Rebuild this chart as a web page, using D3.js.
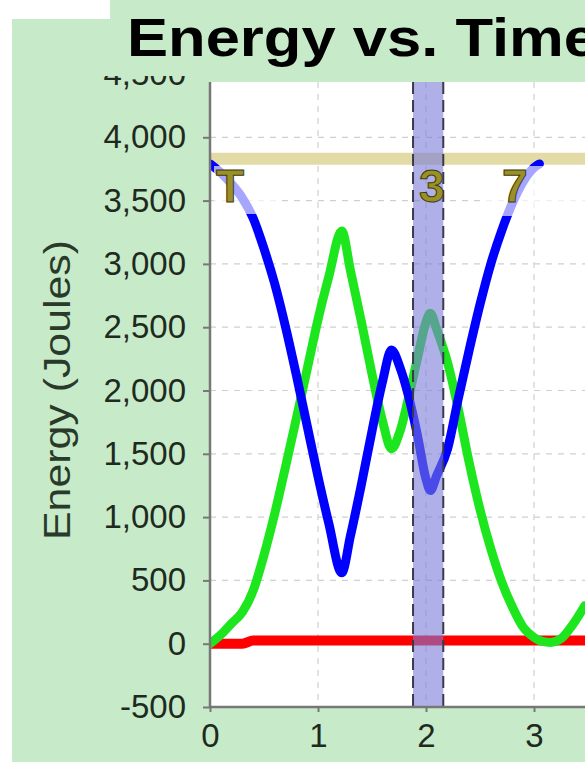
<!DOCTYPE html>
<html>
<head>
<meta charset="utf-8">
<script src="https://cdn.jsdelivr.net/npm/d3@7"></script>
<style>
  body { margin: 0; background: #fff; }
  svg { display: block; font-family: "Liberation Sans", Arial, sans-serif; }
</style>
</head>
<body>
<div class="graph"></div>
<script>
// data
const times   = [0, 0.1, 0.2, 0.3, 0.4, 0.5, 0.6, 0.7, 0.8, 0.9, 1.0, 1.1, 1.22, 1.3, 1.4, 1.5, 1.6, 1.68, 1.76, 1.84, 1.92, 2.0, 2.04, 2.1, 2.2, 2.3, 2.4, 2.5, 2.6, 2.7, 2.8, 2.9, 3.0, 3.05, 3.15, 3.25, 3.35, 3.47];
const kinetic = [0, 70, 160, 250, 420, 700, 1030, 1400, 1780, 2170, 2560, 2900, 3260, 2950, 2550, 2130, 1750, 1540, 1680, 1950, 2250, 2540, 2610, 2480, 2220, 1850, 1430, 1060, 750, 490, 290, 130, 50, 25, 10, 40, 140, 300];
const potential = [3790, 3720, 3630, 3520, 3360, 3120, 2840, 2500, 2120, 1720, 1320, 950, 560, 850, 1250, 1680, 2080, 2320, 2180, 1950, 1650, 1300, 1210, 1330, 1540, 1940, 2320, 2680, 3000, 3260, 3480, 3650, 3760, 3790, null, null, null, null];
const thermal = [0, 0, 0, 0, 25, 25, 25, 25, 25, 25, 25, 25, 25, 25, 25, 25, 25, 25, 25, 25, 25, 25, 25, 25, 25, 25, 25, 25, 25, 25, 25, 25, 25, 25, 25, 25, 25, 25];
const totalEnergy = 3830;
const bandRange = [1.88, 2.16];

const yTicks = [-500, 0, 500, 1000, 1500, 2000, 2500, 3000, 3500, 4000, 4500];
const yTickLabels = ["-500", "0", "500", "1,000", "1,500", "2,000", "2,500", "3,000", "3,500", "4,000", "4,500"];
const xTicks = [0, 1, 2, 3];
const xTickLabels = ["0", "1", "2", "3"];

const width = 585, height = 762;
const pLeft = 210, pRight = 588, pTop = 82, pBottom = 707;
const bgGreen = "#c7ebc8";

const svg = d3.select(".graph").append("svg")
    .attr("width", width)
    .attr("height", height);

//Background
svg.append("rect").attr("width", width).attr("height", height).attr("fill", "#fff");
svg.append("rect").attr("x", 12).attr("y", 0).attr("width", width - 12).attr("height", height).attr("fill", bgGreen);

//Scales
const x = d3.scaleLinear().domain([0, 3.5]).range([pLeft, pRight]);
const y = d3.scaleLinear().domain([-500, 4500]).range([pBottom, pBottom - 10 * 63.3]);

svg.append("clipPath").attr("id", "plotclip")
  .append("rect")
    .attr("x", pLeft).attr("y", pTop)
    .attr("width", width - pLeft).attr("height", pBottom - pTop);

//Plot area
svg.append("rect")
    .attr("x", pLeft).attr("y", pTop)
    .attr("width", width - pLeft).attr("height", pBottom - pTop)
    .attr("fill", "#fff");

const plot = svg.append("g").attr("clip-path", "url(#plotclip)");

//Grid
plot.selectAll(".hgrid").data(yTicks.filter(d => d > -500)).enter().append("line")
    .attr("x1", pLeft).attr("x2", width)
    .attr("y1", d => y(d)).attr("y2", d => y(d))
    .attr("stroke", "#d0d0d0").attr("stroke-width", 1.2).attr("stroke-dasharray", "6,6");
plot.selectAll(".vgrid").data(xTicks.filter(d => d > 0)).enter().append("line")
    .attr("x1", d => x(d)).attr("x2", d => x(d))
    .attr("y1", pTop).attr("y2", pBottom)
    .attr("stroke", "#d0d0d0").attr("stroke-width", 1.2).attr("stroke-dasharray", "6,6");

//Total energy line
plot.append("line")
    .attr("x1", pLeft - 4).attr("x2", width)
    .attr("y1", y(totalEnergy)).attr("y2", y(totalEnergy))
    .attr("stroke", "#e2dba6").attr("stroke-width", 12);

//Series
function series(values, color, w){
  const line = d3.line()
      .defined(d => d[1] !== null)
      .x(d => x(d[0]))
      .y(d => y(d[1]))
      .curve(d3.curveMonotoneX);
  plot.append("path")
      .datum(times.map((t, i) => [t, values[i]]))
      .attr("fill", "none")
      .attr("stroke", color)
      .attr("stroke-width", w)
      .attr("stroke-linejoin", "round")
      .attr("stroke-linecap", "round")
      .attr("d", line);
}
series(thermal, "#ff0000", 10);
series(kinetic, "#1ee61e", 9);
series(potential, "#0000ff", 9);

//Label boxes fading the lines near the top
[[214, 166, 62, 48], [480, 166, 105, 50]].forEach(b => {
  plot.append("rect")
      .attr("x", b[0]).attr("y", b[1]).attr("width", b[2]).attr("height", b[3])
      .attr("fill", "#fff").attr("opacity", 0.65);
});

//Time marker band
plot.append("rect")
    .attr("x", x(bandRange[0])).attr("y", pTop)
    .attr("width", x(bandRange[1]) - x(bandRange[0])).attr("height", pBottom - pTop)
    .attr("fill", "#7b7bd9").attr("opacity", 0.6);
bandRange.forEach(b => {
  plot.append("line")
      .attr("x1", x(b)).attr("x2", x(b))
      .attr("y1", pTop).attr("y2", pBottom)
      .attr("stroke", "#3a3a4a").attr("stroke-width", 2)
      .attr("stroke-dasharray", "12,6");
});

//Partial labels
[["T", 216], ["3", 419], ["7", 502]].forEach(l => {
  plot.append("text")
      .attr("x", l[1]).attr("y", 202)
      .attr("font-size", 46).attr("font-weight", "bold")
      .attr("fill", "#9a9028").attr("stroke", "#3f3a0c").attr("stroke-width", 1)
      .text(l[0]);
});

//Axes
const yAxis = svg.append("g")
    .attr("transform", "translate(" + pLeft + ",0)")
    .call(d3.axisLeft(y).tickValues(yTicks).tickSize(7).tickPadding(17)
        .tickFormat((d, i) => yTickLabels[i]));
const xAxis = svg.append("g")
    .attr("transform", "translate(0," + pBottom + ")")
    .call(d3.axisBottom(x).tickValues(xTicks).tickSize(5).tickPadding(12)
        .tickFormat((d, i) => xTickLabels[i]));
[yAxis, xAxis].forEach(a => {
  a.select(".domain").attr("stroke", "#777").attr("stroke-width", 2.5);
  a.selectAll(".tick line").attr("stroke", "#777").attr("stroke-width", 2);
  a.selectAll("text")
      .attr("font-size", 33)
      .attr("fill", "#1f2a1f")
      .attr("font-family", "Liberation Sans, Arial, sans-serif");
});
yAxis.select(".domain").attr("d", "M0," + pTop + "V" + pBottom);
xAxis.select(".domain").attr("d", "M" + pLeft + ",0H" + width);

//Title strip (hides the top of the 4,500 label as in the original)
svg.append("rect").attr("x", 12).attr("y", 0).attr("width", width - 12).attr("height", 76).attr("fill", bgGreen);
svg.append("rect").attr("x", 0).attr("y", 0).attr("width", 110).attr("height", 19).attr("fill", "#fff");

svg.append("text")
    .attr("transform", "translate(127,56) scale(1.14,1)")
    .attr("font-size", 54).attr("font-weight", "bold")
    .attr("fill", "#000")
    .text("Energy vs. Time");

//Y axis title
svg.append("text")
    .attr("transform", "translate(70,390) rotate(-90)")
    .attr("text-anchor", "middle")
    .attr("font-size", 36)
    .attr("textLength", 300).attr("lengthAdjust", "spacingAndGlyphs")
    .attr("fill", "#2a3a2a")
    .text("Energy (Joules)");
</script>
</body>
</html>
